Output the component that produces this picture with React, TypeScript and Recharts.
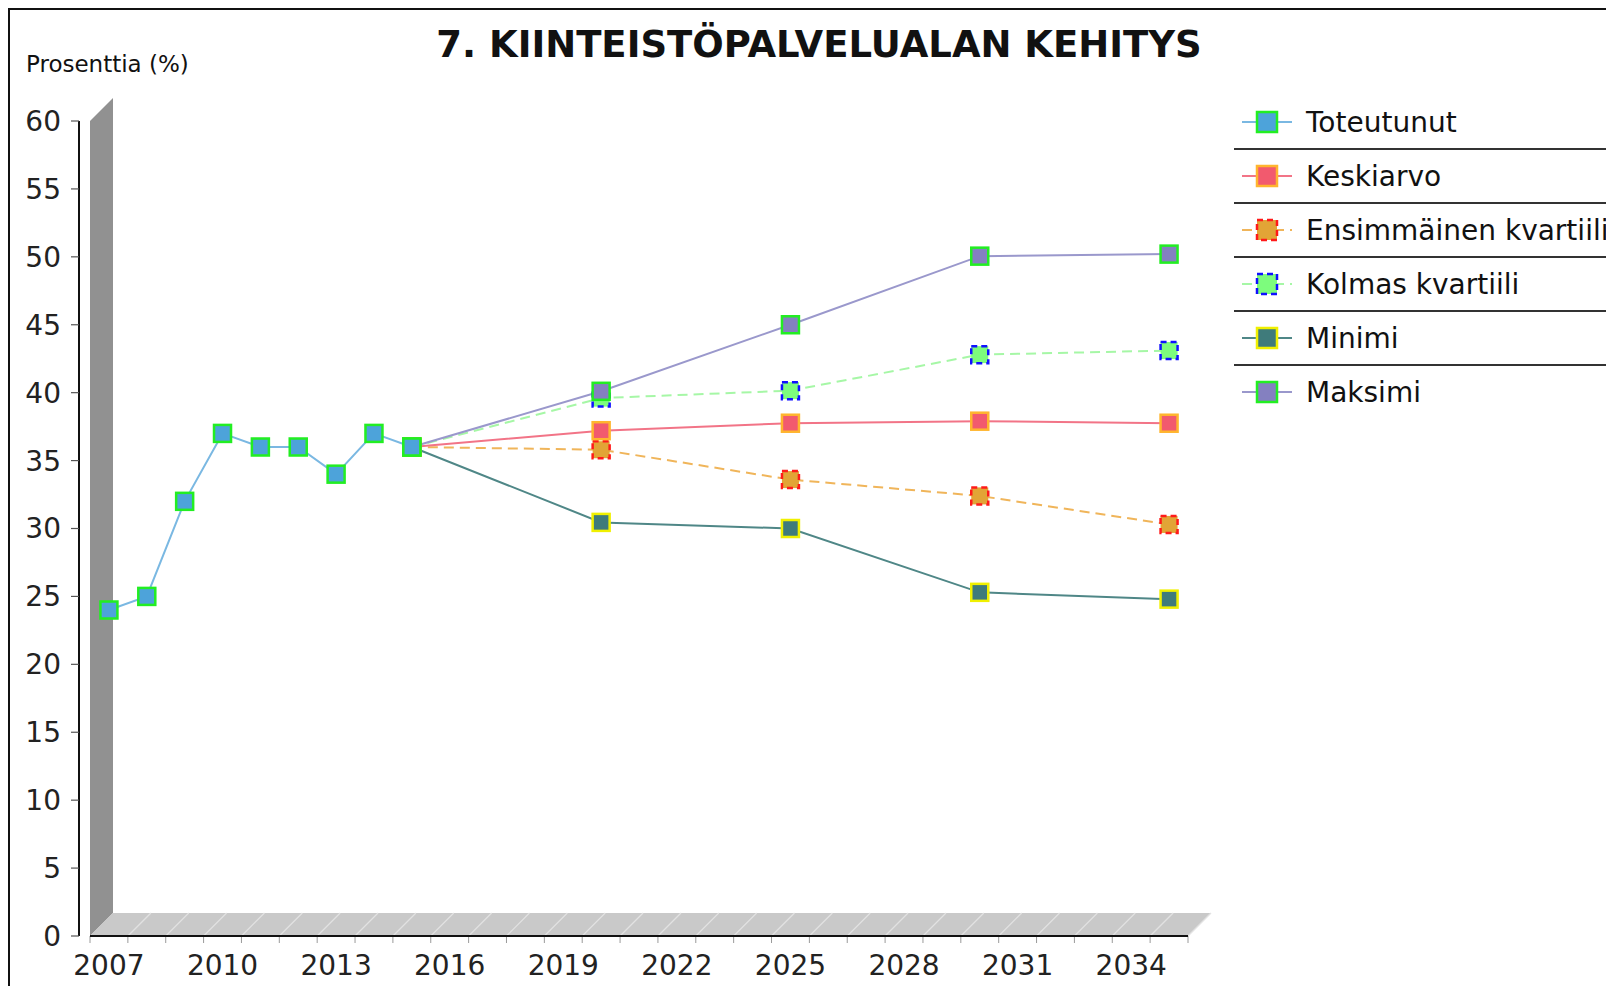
import React from 'react';
import { LineChart, Line, XAxis, YAxis, ReferenceArea, Legend } from 'recharts';

// toteutunut (actual) values
const years = [2007, 2008, 2009, 2010, 2011, 2012, 2013, 2014, 2015];
const toteutunut = [24, 25, 32, 37, 36, 36, 34, 37, 36];

// forecast scenarios, starting from the last actual year
const forecastYears = [2015, 2020, 2025, 2030, 2035];
const keskiarvo = [36, 37.2, 37.75, 37.9, 37.75];
const ensimmainenKvartiili = [36, 35.8, 33.6, 32.4, 30.3];
const kolmasKvartiili = [36, 39.6, 40.15, 42.8, 43.1];
const minimi = [36, 30.45, 30.0, 25.3, 24.8];
const maksimi = [36, 40.1, 45.0, 50.05, 50.2];

const xTicks = [2007, 2010, 2013, 2016, 2019, 2022, 2025, 2028, 2031, 2034];
const yTicks = [0, 5, 10, 15, 20, 25, 30, 35, 40, 45, 50, 55, 60];
const xDomain = [2006.5, 2035.5];

const FONT = '"DejaVu Sans", Verdana, sans-serif';

type Series = {
  key: string;
  name: string;
  line: string;
  fill: string;
  border: string;
  dashed: boolean;
};

// legend order
const series: Series[] = [
  { key: 'toteutunut', name: 'Toteutunut', line: '#7ab8e2', fill: '#4da3da', border: '#22ee22', dashed: false },
  { key: 'keskiarvo', name: 'Keskiarvo', line: '#f27487', fill: '#f25a6e', border: '#ffb52e', dashed: false },
  { key: 'ensimmainen', name: 'Ensimmäinen kvartiili', line: '#f0b55a', fill: '#e2a436', border: '#ff1a1a', dashed: true },
  { key: 'kolmas', name: 'Kolmas kvartiili', line: '#a6f7a6', fill: '#7dfc7d', border: '#1010ff', dashed: true },
  { key: 'minimi', name: 'Minimi', line: '#4f8787', fill: '#3f7b7b', border: '#f0f000', dashed: false },
  { key: 'maksimi', name: 'Maksimi', line: '#9a98cc', fill: '#8480c0', border: '#22ee22', dashed: false },
];
const drawOrder = ['kolmas', 'ensimmainen', 'minimi', 'keskiarvo', 'maksimi', 'toteutunut'];

const forecastValues: Record<string, number[]> = {
  keskiarvo,
  ensimmainen: ensimmainenKvartiili,
  kolmas: kolmasKvartiili,
  minimi,
  maksimi,
};

const allYears = Array.from(new Set([...years, ...forecastYears])).sort((a, b) => a - b);
const rows = allYears.map((year) => {
  const row: Record<string, number | null> = { year };
  const ai = years.indexOf(year);
  row.toteutunut = ai >= 0 ? toteutunut[ai] : null;
  const fi = forecastYears.indexOf(year);
  Object.keys(forecastValues).forEach((k) => {
    row[k] = fi >= 0 ? forecastValues[k][fi] : null;
  });
  return row;
});

// pseudo-3D wall + floor drawn around the plot rectangle
function Frame3D(props: any) {
  const { x, y, width, height } = props;
  const d = 23;
  const bottom = y + height;
  const right = x + width;
  const bands = xDomain[1] - xDomain[0];
  const step = width / bands;
  const idx = Array.from({ length: bands + 1 }, (_, i) => i);
  return (
    <g>
      <polygon points={`${x},${y} ${x + d},${y - d} ${x + d},${bottom - d} ${x},${bottom}`} fill="#919191" />
      <polygon
        points={`${x},${bottom} ${right},${bottom} ${right + d},${bottom - d} ${x + d},${bottom - d}`}
        fill="#c9c9c9"
      />
      {idx.slice(1).map((i) => (
        <line
          key={`s${i}`}
          x1={x + i * step}
          y1={bottom}
          x2={x + i * step + d}
          y2={bottom - d}
          stroke="#e2e2e2"
          strokeWidth={1.2}
        />
      ))}
      {idx.map((i) => (
        <line key={`t${i}`} x1={x + i * step} y1={bottom} x2={x + i * step} y2={bottom + 7} stroke="#9a9a9a" />
      ))}
      <line x1={x} y1={bottom} x2={right} y2={bottom} stroke="#111" strokeWidth={2} />
    </g>
  );
}

function YTick(props: any) {
  const { x, y, payload } = props;
  return (
    <g>
      <text x={x} y={y} dy="0.355em" textAnchor="end" fontSize={28} fontFamily={FONT} fill="#222">
        {payload.value}
      </text>
      <line x1={x + 10} x2={x + 18} y1={y} y2={y} stroke="#555" strokeWidth={1.2} />
    </g>
  );
}

const makeDot = (s: Series) => (p: any) => {
  const v = p.payload ? p.payload[s.key] : null;
  if (v == null || p.cx == null || p.cy == null) return <g key={`${s.key}-${p.index}`} />;
  return (
    <rect
      key={`${s.key}-${p.index}`}
      x={p.cx - 8.5}
      y={p.cy - 8.5}
      width={17}
      height={17}
      fill={s.fill}
      stroke={s.border}
      strokeWidth={2.5}
      strokeDasharray={s.dashed ? '6 4' : undefined}
    />
  );
};

function LegendBox() {
  return (
    <div style={{ width: 372, fontFamily: FONT, fontSize: 28, color: '#111' }}>
      {series.map((s, i) => (
        <div
          key={s.key}
          style={{
            height: 52,
            borderBottom: i < series.length - 1 ? '2px solid #333' : 'none',
            display: 'flex',
            alignItems: 'center',
            whiteSpace: 'nowrap',
            overflow: 'hidden',
          }}
        >
          <svg width={62} height={30} style={{ marginLeft: 8, flex: 'none' }}>
            <line
              x1={0}
              x2={50}
              y1={15}
              y2={15}
              stroke={s.line}
              strokeWidth={2}
              strokeDasharray={s.dashed ? '10 6' : undefined}
            />
            <rect
              x={15}
              y={5}
              width={20}
              height={20}
              fill={s.fill}
              stroke={s.border}
              strokeWidth={2.5}
              strokeDasharray={s.dashed ? '6 4' : undefined}
            />
          </svg>
          <span style={{ marginLeft: 2 }}>{s.name}</span>
        </div>
      ))}
    </div>
  );
}

export default function App() {
  const byKey = (k: string) => series.find((s) => s.key === k)!;
  return (
    <div
      style={{
        position: 'fixed',
        left: 0,
        top: 0,
        width: 1606,
        height: 986,
        background: '#fff',
        overflow: 'hidden',
        fontFamily: FONT,
      }}
    >
      <div
        style={{
          position: 'absolute',
          left: 8,
          top: 8,
          right: -10,
          bottom: -10,
          borderTop: '2px solid #111',
          borderLeft: '2px solid #111',
        }}
      />
      <div
        style={{
          position: 'absolute',
          left: 819,
          top: 26,
          transform: 'translateX(-50%)',
          fontSize: 37,
          lineHeight: 1,
          fontWeight: 'bold',
          whiteSpace: 'nowrap',
          color: '#111',
        }}
      >
        7. KIINTEISTÖPALVELUALAN KEHITYS
      </div>
      <div
        style={{
          position: 'absolute',
          left: 26,
          top: 53,
          fontSize: 23,
          lineHeight: 1,
          whiteSpace: 'nowrap',
          color: '#111',
        }}
      >
        Prosenttia (%)
      </div>
      <LineChart
        width={1606}
        height={986}
        data={rows}
        margin={{ top: 121, right: 418, bottom: 5, left: 9 }}
      >
        <ReferenceArea
          x1={xDomain[0]}
          x2={xDomain[1]}
          y1={0}
          y2={60}
          ifOverflow="visible"
          shape={Frame3D}
        />
        <XAxis
          dataKey="year"
          type="number"
          domain={xDomain}
          ticks={xTicks}
          interval={0}
          padding={{ left: 11, right: 0 }}
          height={45}
          axisLine={false}
          tickLine={false}
          tickMargin={13}
          tick={{ fontSize: 28, fontFamily: FONT, fill: '#222' }}
        />
        <YAxis
          type="number"
          domain={[0, 60]}
          ticks={yTicks}
          interval={0}
          width={70}
          tickLine={false}
          tickMargin={12}
          axisLine={{ stroke: '#111', strokeWidth: 2 }}
          tick={YTick}
        />
        <Legend
          layout="vertical"
          align="center"
          verticalAlign="middle"
          content={LegendBox}
          wrapperStyle={{ left: 1234, top: 96, width: 372, bottom: 'auto', right: 'auto' }}
        />
        {drawOrder.map((k) => {
          const s = byKey(k);
          return (
            <Line
              key={s.key}
              dataKey={s.key}
              name={s.name}
              type="linear"
              stroke={s.line}
              strokeWidth={2}
              strokeDasharray={s.dashed ? '10 6' : undefined}
              connectNulls
              dot={makeDot(s)}
              activeDot={false}
              isAnimationActive={false}
            />
          );
        })}
      </LineChart>
    </div>
  );
}
